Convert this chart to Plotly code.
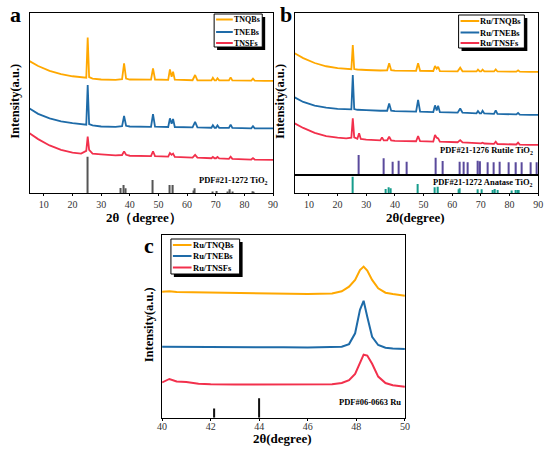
import plotly.graph_objects as go

# ---- panel a : TiO2 supports ----
tt_a = [5, 8, 12, 16, 20, 23, 24.8, 25.3, 25.8, 27, 30, 35, 37.3, 38.0, 38.7, 40,
        47.4, 48.1, 48.8, 53.4, 54.0, 54.6, 55.1, 55.7, 61.9, 62.8, 63.6, 68.5, 69.0,
        69.6, 70.1, 70.6, 71.2, 74.6, 75.2, 75.8, 82.4, 83.0, 83.6, 87, 90]
tnqb_a = [73.2, 70.5, 67.8, 66, 64.8, 64.2, 64, 86.3, 64.3, 63.5, 63, 62.8, 63.2, 72, 63.5, 63,
          62.9, 69.2, 63, 62.8, 68.6, 64.5, 67.3, 62.9, 62.6, 65.5, 62.6, 62.5, 64,
          62.5, 62.5, 63.7, 62.5, 62.5, 64.2, 62.5, 62.4, 63.5, 62.4, 62.3, 62.3]
tneb_a = [47, 44, 41.5, 39.8, 38.8, 38.2, 38, 60, 38.3, 37.6, 37, 36.8, 37.2, 42.8, 37.4, 37,
          36.8, 43.9, 36.9, 36.7, 41.5, 38.5, 41.2, 36.7, 36.5, 39.5, 36.5, 36.3, 37.7,
          36.3, 36.3, 37.6, 36.3, 36.2, 38.0, 36.2, 36.0, 37.2, 36.0, 36, 36]
tnsf_a = [33.2, 30, 26.5, 24, 22.5, 22, 23.5, 31.4, 24, 22, 21.6, 21, 21.2, 23.2, 21.3, 20.8,
          20.6, 23.3, 20.6, 20.3, 22.3, 21.3, 22.0, 20.2, 19.8, 21.3, 19.8, 19.4, 20.1,
          19.4, 19.4, 20.1, 19.3, 19.1, 20.3, 19.1, 18.7, 19.5, 18.7, 18.5, 18.5]
ref_a_pos = [25.3, 36.9, 37.8, 38.6, 48.0, 53.9, 55.1, 62.1, 62.7, 68.8, 70.3, 74.0, 75.0, 76.0, 82.7, 83.2]
ref_a_int = [20.3, 3, 4.6, 2.8, 7.4, 4.6, 4.6, 1.5, 2.8, 1, 1.3, 1, 2.2, 1, 1.2, 0.8]

# ---- panel b : Ru loaded ----
tt_b = [5, 8, 12, 16, 20, 23, 24.8, 25.3, 25.8, 26.9, 27.5, 28.1, 30, 34.9, 35.5, 36.1, 37.3,
        38.0, 38.7, 40, 47.4, 48.1, 48.8, 53.4, 54.0, 54.6, 55.1, 55.7, 61.9, 62.8, 63.6,
        68.5, 69.0, 69.6, 70.1, 70.6, 71.2, 74.6, 75.2, 75.8, 82.4, 83.0, 83.6, 87, 90]
tnqb_b = [75, 72, 69, 67, 65.8, 65.3, 65.2, 80, 65.3, 65, 65, 64.9, 64.7, 64.4, 64.4, 64.4, 64.5,
          68.8, 64.6, 64.3, 64.2, 68.8, 64.2, 64.1, 67.2, 65.5, 66.7, 64, 63.9, 66.1, 63.9,
          63.8, 64.9, 63.8, 63.8, 64.9, 63.8, 63.8, 65.1, 63.8, 63.7, 64.5, 63.7, 63.6, 63.6]
tneb_b = [47.8, 45, 42.8, 41.5, 40.8, 40.4, 40.4, 61.6, 40.6, 40.2, 40.1, 40.1, 40, 39.6, 39.6, 39.5, 39.6,
          44, 39.6, 39.3, 39, 46.2, 39, 38.8, 42.9, 39.8, 42.7, 38.7, 38.4, 41, 38.4,
          38, 39.4, 38, 38, 39.6, 37.9, 37.7, 39.8, 37.7, 37.3, 38.2, 37.2, 37, 37]
tnsf_b = [31.8, 29, 26, 24, 23, 22.6, 23, 34.9, 23.2, 22.3, 25.7, 22.2, 21.8, 21.3, 23.2, 21.3, 21.4,
          23.6, 21.3, 21, 20.8, 24, 20.8, 20.6, 24.6, 23, 22.6, 20.5, 20.2, 21.5, 20.1,
          19.6, 19.9, 19.5, 19.5, 19.9, 19.4, 19.2, 20.5, 19.1, 18.8, 19.9, 18.7, 18.5, 18.5]
rutile_pos = [27.4, 36.1, 39.2, 41.2, 44.0, 54.3, 56.6, 62.7, 64.0, 65.5, 69.0, 69.8, 72.4, 74.4,
              76.5, 79.8, 82.3, 84.2, 87.5, 89.5]
rutile_int = [12.3, 10.3, 8.2, 8.8, 8.2, 10.7, 8.6, 8.2, 8.2, 7.8, 8.8, 8.4, 7.8, 7.8,
              8.2, 7.8, 7.8, 7.8, 7.8, 7.8]
anatase_pos = [25.3, 36.9, 37.8, 38.6, 48.0, 53.9, 55.1, 62.1, 62.7, 68.8, 70.3, 74.0, 75.0, 76.0,
               80.7, 82.1, 82.7, 83.2]
anatase_int = [91, 24, 33, 27, 51, 33, 36, 22, 27, 22, 22, 18, 24, 18, 15, 18, 18, 18]

# ---- panel c : Ru region ----
tt_c = [40, 40.3, 40.6, 41, 41.5, 42, 43, 44, 45, 46, 47, 47.4, 47.7, 47.95, 48.15, 48.3,
        48.45, 48.65, 48.9, 49.2, 49.5, 50]
tnqb_c = [69, 69.2, 68.8, 68.7, 68.5, 68.5, 68.2, 68, 67.9, 67.7, 68, 69.2, 71.7, 75.4, 80.8, 82.7,
          80.5, 75.4, 70.8, 68.4, 67.7, 66.8]
tneb_c = [38.9, 38.9, 38.8, 38.8, 38.7, 38.7, 38.6, 38.6, 38.5, 38.4, 38.4, 38.8, 40.3, 46.2, 59, 64,
          55.3, 44.3, 39.8, 38.3, 37.9, 37.6]
tnsf_c = [19.3, 21.2, 19.8, 19.5, 18.6, 18.3, 18.2, 18.2, 18.1, 18.1, 18.3, 19, 20.5, 24, 30.5, 34.5,
          34, 29.5, 22.5, 19, 17.8, 17]
ru_pos = [42.15, 44.0]
ru_int = [5.1, 10.6]

names_a = ["TNQBs", "TNEBs", "TNSFs"]
names_ru = ["Ru/TNQBs", "Ru/TNEBs", "Ru/TNSFs"]
colors = ["#FFA800", "#1E6BA8", "#F2304C"]

W, H = 550, 453
FONT = "Liberation Serif"


def px(x):
    return x / W


def py(y):
    return 1 - y / H


def bfont(size):
    return dict(family=FONT, size=size, color="black")


fig = go.Figure()

for ys, c in zip([tnqb_a, tneb_a, tnsf_a], colors):
    fig.add_trace(go.Scatter(x=tt_a, y=ys, mode="lines", line=dict(color=c, width=1.8),
                             xaxis="x", yaxis="y", showlegend=False))
fig.add_trace(go.Bar(x=ref_a_pos, y=ref_a_int, width=0.4, marker=dict(color="#555555", line_width=0),
                     xaxis="x", yaxis="y", showlegend=False))

for ys, c in zip([tnqb_b, tneb_b, tnsf_b], colors):
    fig.add_trace(go.Scatter(x=tt_b, y=ys, mode="lines", line=dict(color=c, width=1.8),
                             xaxis="x2", yaxis="y2", showlegend=False))
fig.add_trace(go.Bar(x=rutile_pos, y=rutile_int, width=0.45, marker=dict(color="#5A4A9C", line_width=0),
                     xaxis="x2", yaxis="y2", showlegend=False))
fig.add_trace(go.Bar(x=anatase_pos, y=anatase_int, width=0.4, marker=dict(color="#169C8C", line_width=0),
                     xaxis="x3", yaxis="y3", showlegend=False))

for ys, c in zip([tnqb_c, tneb_c, tnsf_c], colors):
    fig.add_trace(go.Scatter(x=tt_c, y=ys, mode="lines", line=dict(color=c, width=2),
                             xaxis="x4", yaxis="y4", showlegend=False))
fig.add_trace(go.Bar(x=ru_pos, y=ru_int, width=0.07, marker=dict(color="#111111", line_width=0),
                     xaxis="x4", yaxis="y4", showlegend=False))

tickfont = dict(family=FONT, size=10, color="#333333")
xbase = dict(showline=True, linecolor="black", linewidth=1.3, mirror=True, ticks="outside",
             ticklen=2, tickcolor="black", tickfont=tickfont, showgrid=False, zeroline=False)
ybase = dict(showline=True, linecolor="black", linewidth=1.3, mirror=True, showticklabels=False,
             ticks="", showgrid=False, zeroline=False, range=[0, 100], fixedrange=True)

ya_lo, ya_hi = py(193.3), py(12.7)
yb_mid = py(175)

fig.update_layout(
    width=W, height=H, margin=dict(l=0, r=0, t=0, b=0),
    paper_bgcolor="white", plot_bgcolor="white", barmode="overlay",
    xaxis=dict(xbase, domain=[px(25), px(273)], range=[5, 90], tickvals=list(range(10, 91, 10)), anchor="y"),
    yaxis=dict(ybase, domain=[ya_lo, ya_hi], anchor="x"),
    xaxis2=dict(xbase, domain=[px(295), px(543)], range=[5, 90], showticklabels=False, ticks="", anchor="y2"),
    yaxis2=dict(ybase, domain=[yb_mid, ya_hi], anchor="x2"),
    xaxis3=dict(xbase, domain=[px(295), px(543)], range=[5, 90], tickvals=list(range(10, 91, 10)), anchor="y3"),
    yaxis3=dict(ybase, domain=[ya_lo, yb_mid], anchor="x3"),
    xaxis4=dict(xbase, domain=[px(160), px(407.3)], range=[40, 50], tickvals=list(range(40, 51, 2)),
                ticklabelstandoff=-3, anchor="y4"),
    yaxis4=dict(ybase, domain=[py(417.7), py(235)], anchor="x4"),
)

ann = []


def text(t, x, y, size, **kw):
    d = dict(text="<b>%s</b>" % t, x=px(x), y=py(y), xref="paper", yref="paper",
             xanchor="center", yanchor="middle", showarrow=False, font=bfont(size))
    d.update(kw)
    ann.append(d)


# panel letters
for t, x, y in [("a", 11, 14.5), ("b", 286, 14.5), ("c", 147, 245.5)]:
    text(t, x, y, 22)
# y titles
for x, y in [(10, 101), (280, 101), (147, 325)]:
    text("Intensity(a.u.)", x, y, 12.5, textangle=-90)
# x titles
for x, y, t in [(142, 217, "2θ（degree）"), (418, 217, "2θ(degree)"), (283, 438, "2θ(degree)")]:
    text(t, x, y, 13)


def card(t, x, y, xr, yr, anchor="right"):
    ann.append(dict(text="<b>%s</b>" % t, x=x, y=y, xref=xr, yref=yr, xanchor=anchor,
                    yanchor="middle", showarrow=False, font=bfont(8.5)))


card("PDF#21-1272 TiO<sub>2</sub>", 89, 7, "x", "y")
card("PDF#21-1276 Rutile TiO<sub>2</sub>", 89, 15, "x2", "y2")
card("PDF#21-1272 Anatase TiO<sub>2</sub>", 89, 60, "x3", "y3")
card("PDF#06-0663 Ru", 48.55, 8.5, "x4", "y4", "center")

shapes = []


def legend(x0, y0, x1, y1, rows, names, lx0, lx1, size):
    # hand-drawn legend box with drop shadow, like the original
    shapes.append(dict(type="rect", xref="paper", yref="paper", x0=px(x0 + 3), x1=px(x1 + 3),
                       y0=py(y1 + 3), y1=py(y0 + 3), fillcolor="black", line_width=0))
    shapes.append(dict(type="rect", xref="paper", yref="paper", x0=px(x0), x1=px(x1),
                       y0=py(y1), y1=py(y0), fillcolor="white", line=dict(color="black", width=1)))
    for r, n, c in zip(rows, names, colors):
        shapes.append(dict(type="line", xref="paper", yref="paper", x0=px(lx0), x1=px(lx1),
                           y0=py(r), y1=py(r), line=dict(color=c, width=2)))
        text(n, lx1 - 1, r, size, xanchor="left")


legend(213, 14, 262, 47, [19.5, 32, 43], names_a, 215, 232, 8)
legend(462, 15, 529, 48, [21, 32.5, 43], names_ru, 464, 483, 8.5)
legend(169, 239, 239, 274, [245, 256, 267.5], names_ru, 171, 190, 8.5)

fig.update_layout(annotations=ann, shapes=shapes)

fig.write_html("out.html", config={"displayModeBar": False},
               post_script="document.body.style.margin='0';")
